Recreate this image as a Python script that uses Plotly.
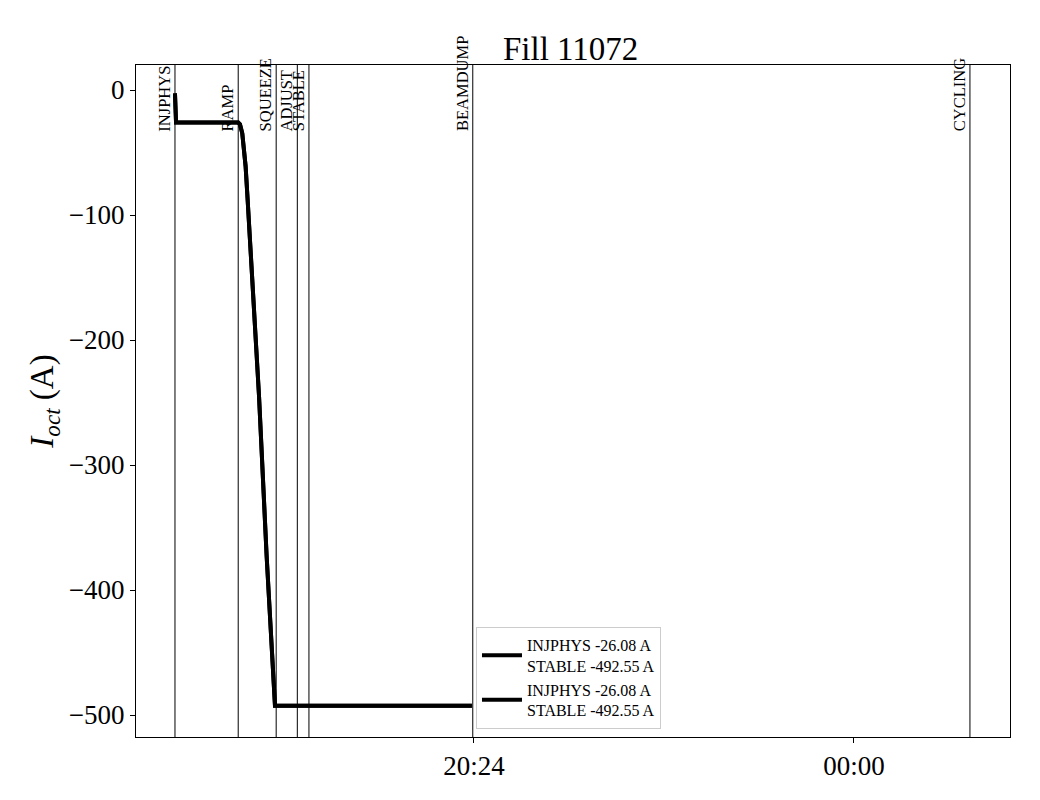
import plotly.graph_objects as go

# ---- data ----
day = "2025-08-17 "
next_day = "2025-08-18 "

times = ["17:34:03", "17:34:40", "18:10:00", "18:11:00", "18:12:18", "18:14:12",
         "18:15:22", "18:17:38", "18:19:54", "18:21:50", "18:26:10", "18:29:56",
         "18:30:54", "20:22:50"]
current_b1 = [-2.7, -26.08, -26.08, -27.5, -34.7, -61, -88, -141, -195, -245,
              -373, -480, -492.55, -492.55]
current_b2 = list(current_b1)

mode_names = ["INJPHYS", "RAMP", "SQUEEZE", "ADJUST", "STABLE", "BEAMDUMP", "CYCLING"]
mode_times = [day + "17:34:03", day + "18:10:00", day + "18:31:35", day + "18:43:36",
              day + "18:50:12", day + "20:23:20", next_day + "01:05:56"]

legend_label = "INJPHYS -26.08 A<br>STABLE -492.55 A"
title = "Fill 11072"
x_range = [day + "17:11:54", next_day + "01:28:42"]
x_tickvals = [day + "20:24:00", next_day + "00:00:00"]
x_ticktext = ["20:24", "00:00"]
y_tickvals = [0, -100, -200, -300, -400, -500]

font_family = "Liberation Serif"

x = [day + t for t in times]

fig = go.Figure()
for ys in (current_b1, current_b2):
    fig.add_trace(go.Scatter(x=x, y=ys, mode="lines", name=legend_label,
                             line=dict(color="black", width=4)))

for name, t in zip(mode_names, mode_times):
    fig.add_shape(type="line", x0=t, x1=t, xref="x", y0=0, y1=1, yref="paper",
                  line=dict(color="black", width=1))
    fig.add_annotation(x=t, xref="x", y=0.9, yref="paper", text=name,
                       textangle=-90, showarrow=False, xanchor="right",
                       yanchor="bottom", font=dict(family=font_family, size=16.5, color="black"),
                       borderpad=0)

fig.update_layout(
    width=1040, height=800,
    margin=dict(l=128, r=38, t=57, b=71),
    paper_bgcolor="white", plot_bgcolor="white",
    font=dict(family=font_family, color="black"),
    title=dict(text=title, x=0.541, xanchor="center", y=0.95, yanchor="middle",
               font=dict(size=33, family=font_family)),
    legend=dict(x=0.389, y=0.012, xanchor="left", yanchor="bottom",
                bgcolor="white", bordercolor="#cccccc", borderwidth=1,
                font=dict(size=16, family=font_family), tracegroupgap=0,
                itemwidth=40),
    showlegend=True,
)
fig.update_xaxes(range=x_range, tickvals=x_tickvals, ticktext=x_ticktext,
                 showgrid=False, zeroline=False, showline=True, mirror=True,
                 linecolor="black", linewidth=1, ticks="outside", ticklen=5,
                 tickcolor="black", tickfont=dict(size=27, family=font_family))
fig.update_yaxes(range=[-517.6, 20], tickvals=y_tickvals,
                 showgrid=False, zeroline=False, showline=True, mirror=True,
                 linecolor="black", linewidth=1, ticks="outside", ticklen=5,
                 tickcolor="black", tickfont=dict(size=27, family=font_family),
                 title=dict(text="<i>I</i><sub><i>oct</i></sub> (A)",
                            font=dict(size=33, family=font_family), standoff=5))

fig.write_html("out.html")
